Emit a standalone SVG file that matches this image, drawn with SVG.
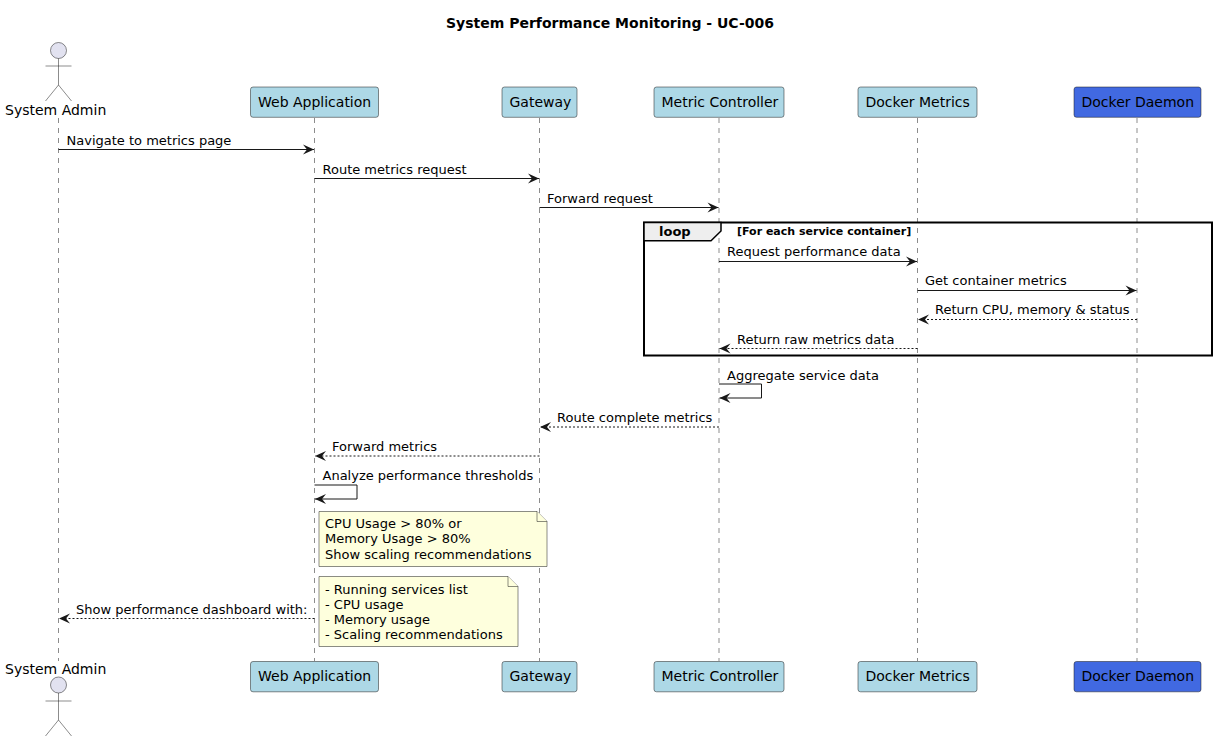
<svg xmlns="http://www.w3.org/2000/svg" width="1216" height="741" viewBox="0 0 1216 741">
<style>
text{font-family:"DejaVu Sans",sans-serif;font-size:13px;fill:#000}
.n{font-size:14px}
.life{stroke:#181818;stroke-width:.5;stroke-dasharray:5 5;fill:none}
.box{fill:#ADD8E6;stroke:#181818;stroke-width:.5}
.daemon{fill:#4169E1}
.act{fill:#E2E2F0;stroke:#181818;stroke-width:.5}
.m{stroke:#181818;stroke-width:1;fill:none}
.d{stroke-dasharray:2 2}
.note{fill:#FEFFDD;stroke:#181818;stroke-width:.5}
</style>
<defs>
<marker id="a" markerUnits="userSpaceOnUse" markerWidth="14" markerHeight="12" refX="12" refY="6" orient="auto"><path d="M1 1 L12 6 L1 11 L5 6 Z" fill="#181818"/></marker>
</defs>
<rect width="1216" height="741" fill="#fff"/>
<text id="title" x="610" y="28" text-anchor="middle" style="font-weight:bold;font-size:14px">System Performance Monitoring - UC-006</text>
<g id="lifelines">
<path class="life" d="M58.500 118V661M314.500 118V661M539.500 118V661M719 118V661M917.500 118V661M1137 118V661"/>
</g>
<g id="actor-admin-top"><circle class="act" cx="58.500" cy="50.500" r="8"/><path class="act" style="fill:none" d="M58.500 58.500V85M45.500 66H71.500M58.500 85L45.500 101M58.500 85L71.500 101"/><text class="n" x="5" y="115">System Admin</text></g>
<g id="actor-admin-bottom"><circle class="act" cx="58.500" cy="685" r="8"/><path class="act" style="fill:none" d="M58.500 693V720M45.500 701H71.500M58.500 720L45.500 736M58.500 720L71.500 736"/><text class="n" x="5" y="674">System Admin</text></g>
<g id="web-top"><rect class="box" x="250.500" y="87" width="128" height="30.300" rx="2.500"/><text class="n" x="258" y="107">Web Application</text></g>
<g id="web-bottom"><rect class="box" x="250.500" y="661.500" width="128" height="30.300" rx="2.500"/><text class="n" x="258" y="681">Web Application</text></g>
<g id="gateway-top"><rect class="box" x="502" y="87" width="75" height="30.300" rx="2.500"/><text class="n" x="509.500" y="107">Gateway</text></g>
<g id="gateway-bottom"><rect class="box" x="502" y="661.500" width="75" height="30.300" rx="2.500"/><text class="n" x="509.500" y="681">Gateway</text></g>
<g id="controller-top"><rect class="box" x="654" y="87" width="130" height="30.300" rx="2.500"/><text class="n" x="661.500" y="107">Metric Controller</text></g>
<g id="controller-bottom"><rect class="box" x="654" y="661.500" width="130" height="30.300" rx="2.500"/><text class="n" x="661.500" y="681">Metric Controller</text></g>
<g id="metrics-top"><rect class="box" x="858" y="87" width="119" height="30.300" rx="2.500"/><text class="n" x="865.500" y="107">Docker Metrics</text></g>
<g id="metrics-bottom"><rect class="box" x="858" y="661.500" width="119" height="30.300" rx="2.500"/><text class="n" x="865.500" y="681">Docker Metrics</text></g>
<g id="daemon-top"><rect class="box daemon" x="1074" y="87" width="127" height="30.300" rx="2.500"/><text class="n" x="1081.500" y="107">Docker Daemon</text></g>
<g id="daemon-bottom"><rect class="box daemon" x="1074" y="661.500" width="127" height="30.300" rx="2.500"/><text class="n" x="1081.500" y="681">Docker Daemon</text></g>
<g id="loop">
<rect x="644" y="222.500" width="568" height="133" fill="none" stroke="#000" stroke-width="2"/>
<path d="M644 222.500H721V231L711 240.700H644Z" fill="#EEEEEE" stroke="#000" stroke-width="1.500"/>
<text x="659" y="236" style="font-weight:bold">loop</text>
<text x="737" y="235" style="font-weight:bold;font-size:11px">[For each service container]</text>
</g>
<g id="connectors">
<path class="m" marker-end="url(#a)" d="M58.500 149.500H314"/>
<path class="m" marker-end="url(#a)" d="M314.500 178.500H539"/>
<path class="m" marker-end="url(#a)" d="M539.500 207.500H718.500"/>
<path class="m" marker-end="url(#a)" d="M719 261.500H917"/>
<path class="m" marker-end="url(#a)" d="M917.500 290.500H1136.500"/>
<path class="m d" marker-end="url(#a)" d="M1137 319.500H918"/>
<path class="m d" marker-end="url(#a)" d="M917.500 348.500H719.500"/>
<path class="m" marker-end="url(#a)" d="M719 384H761.500V398H719.500"/>
<path class="m d" marker-end="url(#a)" d="M719 427H540"/>
<path class="m d" marker-end="url(#a)" d="M539.500 456H315"/>
<path class="m" marker-end="url(#a)" d="M314.500 485H357V499H315"/>
<path class="m d" marker-end="url(#a)" d="M314.500 618.500H59"/>
</g>
<g id="labels">
<text x="66.500" y="145">Navigate to metrics page</text>
<text x="322.500" y="174">Route metrics request</text>
<text x="547" y="203">Forward request</text>
<text x="727" y="256">Request performance data</text>
<text x="925" y="285">Get container metrics</text>
<text x="935" y="314">Return CPU, memory &amp; status</text>
<text x="737" y="344">Return raw metrics data</text>
<text x="727" y="380">Aggregate service data</text>
<text x="557" y="422">Route complete metrics</text>
<text x="332" y="451">Forward metrics</text>
<text x="322.500" y="480">Analyze performance thresholds</text>
<text x="76" y="614">Show performance dashboard with:</text>
</g>
<g id="note-thresholds">
<path class="note" d="M319 511.500H537L547 521.500V566.500H319Z"/><path class="note" d="M537 511.500V521.500H547"/>
<text x="325" y="528">CPU Usage &gt; 80% or</text>
<text x="325" y="543">Memory Usage &gt; 80%</text>
<text x="325" y="559">Show scaling recommendations</text>
</g>
<g id="note-dashboard">
<path class="note" d="M319 576.500H508L518 586.500V646.500H319Z"/><path class="note" d="M508 576.500V586.500H518"/>
<text x="325" y="594">- Running services list</text>
<text x="325" y="609">- CPU usage</text>
<text x="325" y="624">- Memory usage</text>
<text x="325" y="639">- Scaling recommendations</text>
</g>
</svg>
